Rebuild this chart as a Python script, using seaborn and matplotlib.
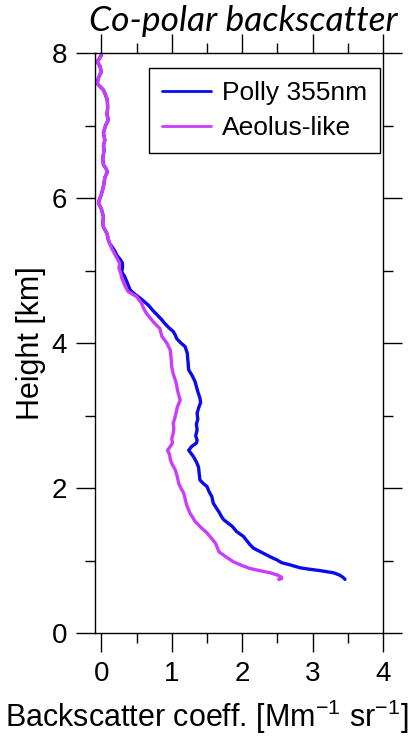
import numpy as np
import pandas as pd
import matplotlib
matplotlib.use("Agg")
import matplotlib.pyplot as plt
from matplotlib.ticker import MultipleLocator
import seaborn as sns

# Polly 355 nm co-polar backscatter profile (height in km, beta in Mm-1 sr-1)
polly_height = [7.97, 7.92, 7.88, 7.82, 7.74, 7.66, 7.58, 7.53, 7.49, 7.42, 7.35, 7.25,
                7.15, 7.08, 7.00, 6.90, 6.80, 6.72, 6.66, 6.55, 6.46, 6.40, 6.36, 6.28,
                6.16, 6.05, 5.97, 5.93, 5.85, 5.74, 5.65, 5.60, 5.51, 5.42, 5.37,
                5.33, 5.27, 5.21, 5.15, 5.10, 5.04, 4.98, 4.92, 4.85, 4.78, 4.73, 4.67,
                4.62, 4.57, 4.52, 4.45, 4.39, 4.33, 4.27, 4.21, 4.16, 4.11, 4.06, 4.00,
                3.95, 3.86, 3.75, 3.63, 3.55, 3.47, 3.40, 3.33, 3.24, 3.18, 3.10, 3.03,
                2.95, 2.88, 2.80, 2.72, 2.66, 2.62, 2.57, 2.52, 2.47, 2.43, 2.36, 2.29,
                2.20, 2.11, 2.06, 2.02, 1.95, 1.88, 1.79, 1.73, 1.67, 1.60, 1.56, 1.47,
                1.40, 1.33, 1.28, 1.22, 1.17, 1.10, 1.05, 1.01, 0.97, 0.94, 0.90, 0.88,
                0.86, 0.83, 0.80, 0.77, 0.74]
polly_beta = [0.00, -0.03, -0.06, -0.02, 0.00, -0.04, -0.06, -0.01, 0.03, 0.06, 0.085, 0.09,
              0.08, 0.10, 0.06, 0.03, 0.05, 0.03, 0.04, 0.02, 0.03, 0.07, 0.085, 0.05,
              0.03, 0.00, -0.03, -0.04, 0.00, 0.03, 0.02, 0.03, 0.08, 0.10, 0.12,
              0.15, 0.19, 0.22, 0.27, 0.30, 0.30, 0.29, 0.33, 0.36, 0.39, 0.41, 0.48,
              0.55, 0.61, 0.67, 0.73, 0.79, 0.85, 0.90, 0.96, 1.02, 1.05, 1.07, 1.13,
              1.19, 1.22, 1.23, 1.24, 1.29, 1.33, 1.35, 1.37, 1.40, 1.41, 1.38, 1.36,
              1.37, 1.35, 1.36, 1.34, 1.36, 1.35, 1.28, 1.24, 1.28, 1.31, 1.35, 1.38,
              1.39, 1.40, 1.45, 1.50, 1.53, 1.57, 1.59, 1.63, 1.67, 1.71, 1.74, 1.86,
              1.92, 2.02, 2.06, 2.11, 2.16, 2.30, 2.40, 2.49, 2.56, 2.68, 2.82, 2.95,
              3.11, 3.30, 3.38, 3.43, 3.46]

# Aeolus-like co-polar backscatter profile
aeolus_height = [7.97, 7.92, 7.88, 7.82, 7.74, 7.66, 7.58, 7.53, 7.49, 7.42, 7.35, 7.25,
                 7.15, 7.08, 7.00, 6.90, 6.80, 6.72, 6.66, 6.55, 6.46, 6.40, 6.36, 6.28,
                 6.16, 6.05, 5.97, 5.93, 5.85, 5.74, 5.65, 5.60, 5.51, 5.42, 5.37, 5.30,
                 5.21, 5.10, 5.03, 4.98, 4.90, 4.85, 4.78, 4.71, 4.64, 4.55, 4.48, 4.41,
                 4.35, 4.29, 4.20, 4.09, 4.00, 3.90, 3.80, 3.67, 3.58, 3.49, 3.42, 3.35,
                 3.28, 3.21, 3.12, 3.03, 2.95, 2.89, 2.82, 2.75, 2.68, 2.62, 2.56, 2.52,
                 2.46, 2.39, 2.32, 2.25, 2.15, 2.06, 1.98, 1.93, 1.85, 1.77, 1.70, 1.65,
                 1.59, 1.54, 1.46, 1.38, 1.30, 1.24, 1.17, 1.12, 1.05, 0.98, 0.93, 0.89,
                 0.86, 0.83, 0.80, 0.77, 0.75, 0.74]
aeolus_beta = [0.00, -0.03, -0.06, -0.02, 0.00, -0.04, -0.06, -0.01, 0.03, 0.06, 0.085, 0.09,
               0.08, 0.10, 0.06, 0.03, 0.05, 0.03, 0.04, 0.02, 0.03, 0.07, 0.085, 0.05,
               0.03, 0.00, -0.03, -0.04, 0.00, 0.03, 0.02, 0.03, 0.08, 0.10, 0.12, 0.15,
               0.20, 0.26, 0.25, 0.27, 0.29, 0.31, 0.34, 0.38, 0.50, 0.57, 0.60, 0.64,
               0.69, 0.74, 0.83, 0.86, 0.93, 0.98, 0.99, 1.00, 1.02, 1.05, 1.07, 1.08,
               1.10, 1.12, 1.08, 1.06, 1.04, 1.02, 1.03, 1.02, 1.00, 1.01, 0.97, 0.94,
               0.97, 0.98, 1.01, 1.05, 1.08, 1.10, 1.14, 1.17, 1.19, 1.21, 1.24, 1.26,
               1.30, 1.33, 1.41, 1.50, 1.57, 1.62, 1.65, 1.67, 1.77, 1.88, 2.00, 2.11,
               2.25, 2.40, 2.50, 2.56, 2.56, 2.52]

series_names = ["Polly 355nm", "Aeolus-like"]
series_colors = ["#0a0aee", "#cc3cff"]

sns.set_style("ticks")
plt.rcParams["font.family"] = ["Liberation Sans", "DejaVu Sans"]
plt.rcParams["mathtext.fontset"] = "custom"
plt.rcParams["mathtext.rm"] = "Liberation Sans"
plt.rcParams["mathtext.it"] = "Liberation Sans"
plt.rcParams["text.color"] = "black"
plt.rcParams["axes.labelcolor"] = "black"
plt.rcParams["xtick.color"] = "black"
plt.rcParams["ytick.color"] = "black"
plt.rcParams["axes.edgecolor"] = "black"

df = pd.concat([
    pd.DataFrame({"beta": polly_beta, "height": polly_height, "series": series_names[0]}),
    pd.DataFrame({"beta": aeolus_beta, "height": aeolus_height, "series": series_names[1]}),
], ignore_index=True)

fig = plt.figure(figsize=(4.11, 7.36), dpi=100)
ax = fig.add_axes([95 / 411, 103 / 736, 288 / 411, 580 / 736])

sns.lineplot(data=df, x="beta", y="height", hue="series", hue_order=series_names,
             palette=series_colors, sort=False, estimator=None, linewidth=2.4, ax=ax)

ax.set_xlim(-0.09, 4.0)
ax.set_ylim(0, 8)
ax.xaxis.set_major_locator(MultipleLocator(1))
ax.xaxis.set_minor_locator(MultipleLocator(0.5))
ax.yaxis.set_major_locator(MultipleLocator(2))
ax.yaxis.set_minor_locator(MultipleLocator(1))

for s in ax.spines.values():
    s.set_linewidth(1.0)
    s.set_color("black")
ax.tick_params(which="both", direction="out", top=True, right=True, width=1.0,
               color="black", labelcolor="black")
ax.tick_params(which="major", length=14, labelsize=20, pad=6)
ax.tick_params(which="minor", length=7)

ax.set_xlabel("")
ax.set_ylabel("Height [km]", fontsize=22, labelpad=4, color="black")

fig.text(207 / 411, 1 - 717 / 736, r"Backscatter coeff. [Mm$^{-1}$ sr$^{-1}$]",
         ha="center", va="center", fontsize=22, color="black")
fig.text(243 / 411, 1 - 21 / 736, "Co-polar backscatter", ha="center", va="center",
         fontsize=25.5, style="italic", family=["Lato", "DejaVu Sans"], color="black")

leg = ax.legend(loc="upper right", bbox_to_anchor=(0.99, 0.974), borderaxespad=0,
                fontsize=19, handlelength=1.85, handletextpad=0.4, borderpad=0.5,
                labelspacing=0.4, fancybox=False, framealpha=1, edgecolor="black")
leg.get_frame().set_linewidth(1.0)
for text in leg.get_texts():
    text.set_color("black")
for line in leg.get_lines():
    line.set_linewidth(2.0)

fig.savefig("out.png", dpi=100)
